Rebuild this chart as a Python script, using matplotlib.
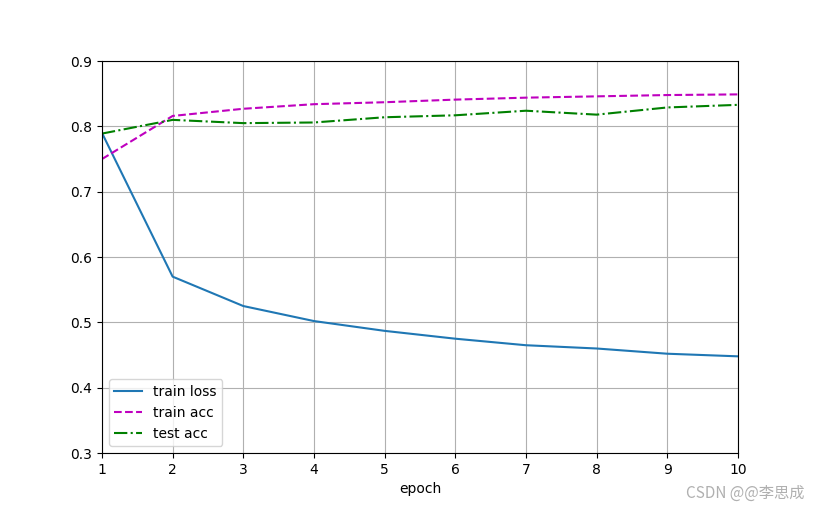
import matplotlib
matplotlib.use("Agg")
import matplotlib.pyplot as plt

epochs = [1, 2, 3, 4, 5, 6, 7, 8, 9, 10]
train_loss = [0.790, 0.570, 0.525, 0.502, 0.487, 0.475, 0.465, 0.460, 0.452, 0.448]
train_acc = [0.750, 0.816, 0.827, 0.834, 0.837, 0.841, 0.844, 0.846, 0.848, 0.849]
test_acc = [0.789, 0.810, 0.805, 0.806, 0.814, 0.817, 0.824, 0.818, 0.829, 0.833]

fig = plt.figure(figsize=(8.19, 5.09), dpi=100)
ax = fig.add_axes([0.1245, 0.110, 0.7765, 0.770])
ax.plot(epochs, train_loss, '-', color='#1f77b4', label='train loss')
ax.plot(epochs, train_acc, 'm--', label='train acc')
ax.plot(epochs, test_acc, 'g-.', label='test acc')
ax.set_xlim(1, 10)
ax.set_ylim(0.3, 0.9)
ax.set_xticks(epochs)
ax.set_xlabel('epoch')
ax.grid(True)
ax.legend(loc='lower left')
fig.text(0.982, 0.015, 'CSDN @@李思成', ha='right', va='bottom', fontsize=11,
         color='#b0b0b0', family=['Noto Sans CJK SC', 'DejaVu Sans'])
fig.savefig('out.png', dpi=100)
